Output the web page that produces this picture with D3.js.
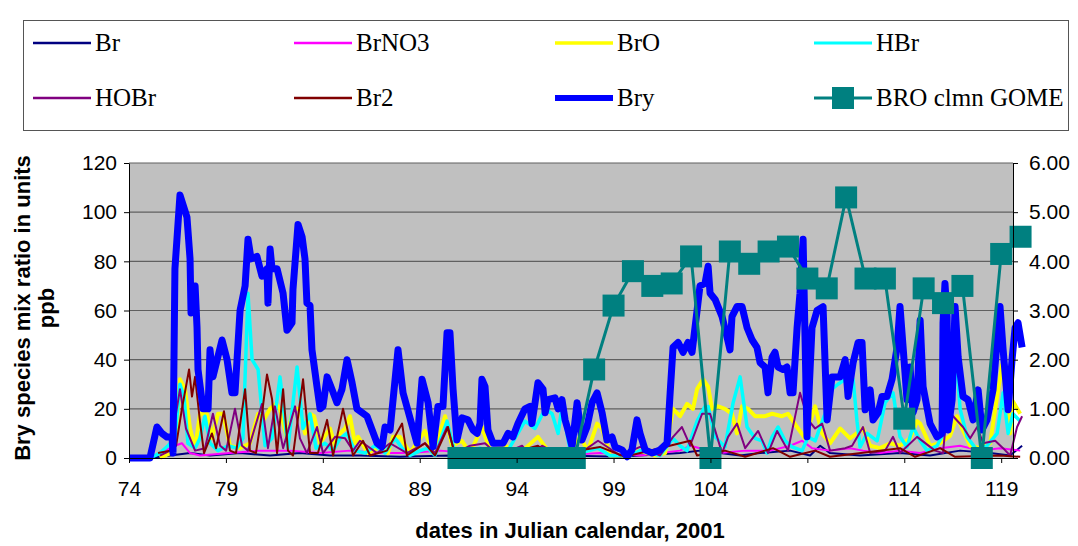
<!DOCTYPE html>
<html>
<head>
<meta charset="utf-8">
<script src="https://cdn.jsdelivr.net/npm/d3@7"></script>
<style>
  body { margin: 0; background: #fff; }
  .tick text { font-family: "Liberation Sans", Arial, sans-serif; font-size: 21px; fill: #000; }
  .axis path, .axis line { stroke: #000; }
</style>
</head>
<body>
<div id="chart"></div>
<script>
// --- data: [day, value] pairs ---
var brData = [[75.08,0],[76.12,1],[77.15,2],[78.18,1],[79.73,2],[81.28,1],[82.82,2],[84.37,1],[85.92,1],[87.98,0.5],[90.56,1],[93.14,0.5],[96.24,1],[99.34,0.5],[102.43,2],[103.46,3],[104.5,2],[105.53,1],[106.56,2],[108.11,3],[109.14,1],[109.66,5],[110.17,2],[111.72,1],[113.78,2],[115.33,1],[116.88,3],[118.43,2],[119.46,1],[120.08,5]];

var brno3Data = [[75.08,0],[75.86,3],[76.37,5],[76.73,6],[77.15,2],[77.66,1],[79.21,2],[80.76,3],[82.31,3],[83.86,2],[85.4,3],[86.95,2],[88.5,2],[90.05,3],[91.6,2],[93.14,1],[94.69,2],[96.24,1],[98.3,2],[100.37,1],[102.43,3],[102.95,5],[103.46,4],[104.5,2],[105.79,3],[107.08,3],[108.11,5],[108.73,7],[109.24,4],[110.17,3],[111.2,4],[111.87,3],[112.75,2],[113.78,3],[114.82,2],[115.85,4],[116.88,5],[117.91,3],[118.94,4],[119.98,3]];

var broData = [[75.6,0],[76.12,2],[76.43,10],[76.63,32],[76.89,28],[77.15,12],[77.41,4],[77.66,18],[78.02,18],[78.28,8],[78.59,18],[78.85,18],[79.21,5],[79.73,4],[80.24,6],[80.66,18],[80.91,15],[81.28,20],[81.59,22],[81.79,20],[82.15,8],[82.46,20],[82.82,20],[83.08,10],[83.34,18],[83.55,17],[83.86,6],[84.37,12],[84.63,5],[84.89,10],[85.15,12],[85.4,17],[85.66,6],[85.82,8.6],[86.33,2],[86.95,4.5],[87.36,2],[87.62,8.6],[87.98,8.6],[88.5,2],[89.27,11],[89.69,2],[90.31,17],[90.67,5],[91.18,7],[91.6,2],[92.21,12.6],[92.63,3],[93.4,5],[94.18,2],[95.1,8.6],[95.62,3],[96.24,2],[96.76,2],[97.27,8.6],[97.68,3],[98.15,14],[98.41,12],[98.82,1],[99.59,1],[100.37,3],[101.14,1],[101.66,2],[102.07,20],[102.43,17],[102.79,22],[103.1,20],[103.31,28],[103.62,32],[103.88,29],[104.08,20],[104.39,21],[104.75,20],[105.11,18],[105.37,10],[105.63,21],[105.94,20],[106.3,17],[106.82,17],[107.18,18],[107.69,17],[108.0,18],[108.52,12],[108.88,8],[109.4,21],[109.76,10],[110.17,6],[110.69,12],[111.2,8],[111.87,12],[112.24,5],[112.75,4],[113.27,6],[113.78,5],[114.3,8],[114.66,15],[114.82,14],[115.33,5],[115.85,6],[116.36,9],[116.72,17],[116.98,12],[117.4,5],[117.91,4],[118.43,6],[118.79,25],[119.05,38],[119.25,24],[119.46,10],[119.61,23],[119.98,18]];

var hbrData = [[75.08,0],[75.6,2],[76.01,5],[76.37,8],[76.63,30],[76.84,25],[77.04,6],[77.41,4],[77.66,8],[77.92,17],[78.18,6],[78.59,3],[79.11,5],[79.57,4],[79.88,8],[80.14,67],[80.35,40],[80.66,36],[81.02,5],[81.38,8],[81.79,33],[82.2,4],[82.67,37],[82.98,12],[83.34,18],[83.65,4],[84.11,6],[84.53,3],[84.89,8],[85.25,10],[85.66,3],[86.18,2],[86.69,5],[87.21,2],[87.73,8],[88.09,4],[88.5,1],[89.02,3],[89.43,4],[89.79,1],[90.41,15],[90.82,2],[91.34,1],[92.11,4],[92.63,2],[93.4,1],[94.43,15],[94.95,12],[95.47,20],[95.83,18],[96.14,10],[96.34,21],[96.76,3],[97.27,2],[98.2,4],[98.82,1],[99.85,1],[100.37,3],[101.4,1],[102.07,8],[102.43,5],[102.79,3],[103.31,15],[103.72,21],[103.88,21],[104.24,8.6],[104.75,4.5],[105.17,22.5],[105.53,33],[105.89,12.6],[106.3,8],[106.66,7],[106.92,2],[107.18,8.6],[107.49,12.6],[107.85,7],[108.21,4.5],[108.73,3],[109.04,8.6],[109.4,7],[109.91,18],[110.27,28],[110.58,30],[110.95,32],[111.2,30],[111.36,32],[111.56,15],[111.72,4.5],[112.08,10],[112.6,7],[113.01,22.5],[113.42,26.5],[113.78,8.6],[114.14,4.5],[114.45,12.6],[114.82,7],[115.18,3],[115.69,5],[116.21,12.6],[116.36,43],[116.52,43],[116.72,37],[116.88,20],[117.24,8.6],[117.76,3],[118.27,5],[118.79,10],[119.1,26.5],[119.36,10],[119.61,18],[119.98,15]];

var hobrData = [[75.6,1],[76.12,3],[76.63,28],[76.94,12],[77.41,3],[77.92,4],[78.33,18],[78.7,5],[79.01,3],[79.47,20],[79.83,5],[80.14,3],[80.86,22],[81.17,4],[81.53,21],[81.95,4],[82.57,21],[82.82,8],[83.18,2],[83.7,12.6],[84.01,2],[84.63,8.6],[85.15,8],[85.56,3],[85.92,7],[86.8,2],[87.47,6],[88.34,2],[89.27,6],[89.79,2],[90.41,12.6],[90.82,2],[91.6,5],[92.37,6],[93.04,1],[94.28,5],[94.69,1],[95.31,5],[96.24,1],[97.27,2],[98.2,7],[99.34,1],[100.37,4.5],[101.4,1],[102.07,8.6],[102.53,12.6],[102.95,5],[103.57,18],[103.98,18],[104.6,2],[104.91,8.6],[105.37,14],[105.79,4],[106.46,11],[106.97,2],[107.44,11],[108.0,3],[108.62,26.5],[109.04,15.5],[109.4,12],[109.76,14],[110.17,3],[110.95,4],[111.31,5],[111.87,12.6],[112.24,2],[113.01,3],[113.42,8.6],[113.78,2],[114.66,8.6],[115.59,3],[116.0,2],[116.21,20],[116.52,17],[117.03,12.6],[117.4,8],[117.76,12.6],[118.07,6],[118.69,7],[119.1,4],[119.46,1],[119.82,12.6],[120.08,17]];

var br2Data = [[75.5,2],[76.12,3],[76.43,5],[76.73,20],[77.1,36],[77.25,25],[77.41,33],[77.66,15],[77.87,2],[78.28,10],[78.49,4],[78.9,19],[79.21,3],[79.52,2],[79.99,28],[80.24,3],[80.55,2],[80.86,18],[81.12,34],[81.38,24],[81.64,2],[81.95,28],[82.2,3],[82.46,1],[82.98,32],[83.34,2],[83.75,2],[84.22,15.5],[84.53,1],[85.04,20],[85.56,1],[86.07,7],[86.44,1],[87.31,3],[88.09,14],[88.34,1],[89.27,6],[89.79,1],[90.46,12.6],[90.82,1],[92.21,3],[93.14,1],[95.1,5],[95.72,1],[98.3,4.5],[99.59,0.5],[102.95,7],[103.31,1],[104.75,3],[105.79,0.5],[107.23,4],[108.11,0.5],[109.4,3],[110.17,0.5],[113.78,4],[114.56,0.5],[115.85,4],[116.62,0.5],[118.94,1],[119.98,0.5]];

var bryData = [[74.05,0],[75.08,0],[75.44,12.6],[75.7,10],[75.96,8.5],[76.22,8.5],[76.27,2],[76.37,77],[76.63,107],[76.99,98],[77.15,81],[77.2,59],[77.41,70],[77.51,53],[77.56,36],[77.82,20],[78.08,20],[78.18,44],[78.33,33],[78.8,48],[79.06,40],[79.31,26.5],[79.47,26.5],[79.73,60],[79.99,70],[80.14,89],[80.3,81],[80.6,82],[80.86,74],[81.12,77],[81.17,63],[81.28,85],[81.38,77],[81.64,77],[81.95,67],[82.15,52],[82.41,55],[82.46,68.5],[82.72,95],[82.93,90],[83.08,81],[83.18,63],[83.34,62],[83.44,44],[83.7,29],[83.86,20],[84.01,21],[84.22,33],[84.47,28],[84.73,22.5],[84.99,28],[85.25,40],[85.51,30.6],[85.76,20],[86.28,17],[86.8,6],[87.05,4.5],[87.21,12.6],[87.47,11.4],[87.88,44],[88.14,26.5],[88.86,6],[89.12,32],[89.43,22.5],[89.69,4.5],[89.94,21],[90.2,21],[90.41,51],[90.56,51],[90.72,28],[90.92,7.3],[91.18,16.3],[91.49,15.5],[91.75,11.4],[91.96,10],[92.11,14],[92.21,32],[92.37,29],[92.52,11.4],[92.78,6],[93.3,6],[93.56,10],[93.81,8.6],[94.07,14],[94.43,20],[94.69,21],[94.79,14],[94.95,22.5],[95.1,30.6],[95.36,28],[95.47,18.4],[95.62,23.7],[95.98,24.5],[96.14,20],[96.34,23.7],[96.5,15.5],[96.65,11.4],[96.86,4.5],[97.12,22.5],[97.37,7.3],[97.63,12.6],[97.89,22.5],[98.15,26.5],[98.41,18.4],[98.66,7.3],[98.92,8.6],[99.08,4.5],[99.44,3.3],[99.7,0.5],[99.95,3.3],[100.21,15.5],[100.37,10],[100.63,3.3],[100.99,2],[101.4,3.3],[101.76,6],[101.92,26.5],[102.07,45],[102.33,47],[102.59,43],[102.84,47],[103.05,43],[103.31,60],[103.46,70],[103.72,71],[103.88,78],[103.98,67],[104.24,64.5],[104.6,57.5],[104.86,49],[105.01,44],[105.11,57.5],[105.37,61.6],[105.63,61.6],[105.89,53],[106.15,48],[106.4,45],[106.56,38.8],[106.82,37],[106.97,26.5],[107.18,41],[107.33,43],[107.49,37],[107.75,36],[107.95,37],[108.11,26.5],[108.26,26.5],[108.47,53],[108.62,67],[108.78,89],[108.98,8.6],[109.24,53],[109.5,60],[109.81,61.6],[110.02,15.5],[110.27,33],[110.69,33],[110.95,40],[111.1,25],[111.36,38.8],[111.62,47],[111.82,47],[111.98,19.6],[112.24,27.7],[112.39,15.5],[112.65,18.4],[112.85,25],[113.11,25],[113.37,32],[113.63,45],[113.78,61.6],[113.94,45],[114.14,23.7],[114.3,37],[114.45,18.4],[114.66,23.7],[114.82,56],[114.97,29],[115.33,14],[115.69,8.6],[115.95,10],[116.0,55],[116.1,71],[116.21,57.5],[116.26,11.4],[116.47,23.7],[116.62,61.6],[116.78,41],[117.03,25],[117.29,23.7],[117.55,15.5],[117.81,27.7],[118.01,11.4],[118.27,15.5],[118.58,27.7],[118.94,61.6],[119.1,44],[119.36,19.6],[119.56,40],[119.72,53],[119.87,55],[120.08,45]];

var gomeDays = [91,92,93,94,95,96,97,98,99,100,101,102,103,104,105,106,107,108,109,110,111,112,113,114,115,116,117,118,119,120];
var gomeValues = [0,0,0,0,0,0,0,1.8,3.1,3.8,3.5,3.55,4.1,0,4.2,3.95,4.2,4.3,3.65,3.45,5.3,3.65,3.65,0.8,3.45,3.15,3.5,0,4.15,4.5];

var xTicks = [74,79,84,89,94,99,104,109,114,119];
var yTicks = [0,20,40,60,80,100,120];
var y2Ticks = [0,1,2,3,4,5,6];

var series = [
  {name:"Br", data:brData, color:"#000080", width:2},
  {name:"BrNO3", data:brno3Data, color:"#FF00FF", width:2},
  {name:"BrO", data:broData, color:"#FFFF00", width:4},
  {name:"HBr", data:hbrData, color:"#00FFFF", width:3.5},
  {name:"HOBr", data:hobrData, color:"#800080", width:2},
  {name:"Br2", data:br2Data, color:"#800000", width:2},
  {name:"Bry", data:bryData, color:"#0000FF", width:7}
];

// --- layout ---
var W = 1078, H = 546;
var plot = {left:129, right:1013, top:163, bottom:458};

var svg = d3.select("#chart").append("svg").attr("width",W).attr("height",H);

var x = d3.scaleLinear().domain([74,119.61]).range([plot.left,plot.right]);
var y = d3.scaleLinear().domain([0,120]).range([plot.bottom,plot.top]);
var y2 = d3.scaleLinear().domain([0,6]).range([plot.bottom,plot.top]);

// plot area background
svg.append("rect")
  .attr("x",plot.left).attr("y",plot.top)
  .attr("width",plot.right-plot.left).attr("height",plot.bottom-plot.top)
  .attr("fill","#C0C0C0");

// grid lines
svg.append("g").selectAll("line").data(yTicks.slice(1)).enter().append("line")
  .attr("x1",plot.left).attr("x2",plot.right)
  .attr("y1",function(d){return y(d);}).attr("y2",function(d){return y(d);})
  .attr("stroke","#606060").attr("stroke-width",1.2);

// series lines
var line = d3.line().x(function(d){return x(d[0]);}).y(function(d){return y(d[1]);});
svg.append("g").selectAll("path").data(series).enter().append("path")
  .attr("d",function(s){return line(s.data);})
  .attr("fill","none")
  .attr("stroke",function(s){return s.color;})
  .attr("stroke-width",function(s){return s.width;})
  .attr("stroke-linejoin","round");

// GOME on right axis
var gome = gomeDays.map(function(d,i){return [d,gomeValues[i]];});
var line2 = d3.line().x(function(d){return x(d[0]);}).y(function(d){return y2(d[1]);});
svg.append("path").attr("d",line2(gome))
  .attr("fill","none").attr("stroke","#008080").attr("stroke-width",3);
svg.append("g").selectAll("rect").data(gome).enter().append("rect")
  .attr("x",function(d){return x(d[0])-11;}).attr("y",function(d){return y2(d[1])-11;})
  .attr("width",22).attr("height",22).attr("fill","#008080");

// axes
svg.append("g").attr("class","axis")
  .attr("transform","translate(0,"+plot.bottom+")")
  .call(d3.axisBottom(x).tickValues(xTicks).tickFormat(d3.format("d")).tickSizeInner(5).tickSizeOuter(0).tickPadding(18));
svg.append("g").attr("class","axis")
  .attr("transform","translate("+plot.left+",0)")
  .call(d3.axisLeft(y).tickValues(yTicks).tickSizeInner(5).tickSizeOuter(0).tickPadding(7));
svg.append("g").attr("class","axis")
  .attr("transform","translate("+plot.right+",0)")
  .call(d3.axisRight(y2).tickValues(y2Ticks).tickFormat(d3.format(".2f")).tickSizeInner(5).tickSizeOuter(0).tickPadding(11));

// axis titles
var titleFont = "'Liberation Sans', Arial, sans-serif";
svg.append("text")
  .attr("transform","translate(30,308) rotate(-90)")
  .attr("text-anchor","middle").attr("font-family",titleFont).attr("font-weight","bold").attr("font-size",22)
  .text("Bry species mix ratio in units");
svg.append("text")
  .attr("transform","translate(54,308) rotate(-90)")
  .attr("text-anchor","middle").attr("font-family",titleFont).attr("font-weight","bold").attr("font-size",22)
  .text("ppb");
svg.append("text")
  .attr("x",570).attr("y",538)
  .attr("text-anchor","middle").attr("font-family",titleFont).attr("font-weight","bold").attr("font-size",22)
  .text("dates in Julian calendar, 2001");

// legend
svg.append("rect").attr("x",23.5).attr("y",20.5).attr("width",1045).attr("height",110)
  .attr("fill","#fff").attr("stroke","#555").attr("stroke-width",1);
var legendItems = series.concat([{name:"BRO clmn GOME", color:"#008080", width:3, marker:true}]);
var colX = [33,294,555,814];
var rowY = [43,98];
var leg = svg.append("g").selectAll("g").data(legendItems).enter().append("g")
  .attr("transform",function(d,i){return "translate("+colX[i%4]+","+rowY[Math.floor(i/4)]+")";});
leg.append("line").attr("x1",0).attr("x2",58).attr("y1",0).attr("y2",0)
  .attr("stroke",function(d){return d.color;})
  .attr("stroke-width",function(d){return d.marker ? 3 : Math.max(d.width*0.85,2.5);});
leg.filter(function(d){return d.marker;}).append("rect")
  .attr("x",18).attr("y",-11).attr("width",22).attr("height",22).attr("fill","#008080");
leg.append("text").attr("x",62).attr("y",8)
  .attr("font-family","'Liberation Serif', 'Times New Roman', serif").attr("font-size",25)
  .text(function(d){return d.name;});
</script>
</body>
</html>
